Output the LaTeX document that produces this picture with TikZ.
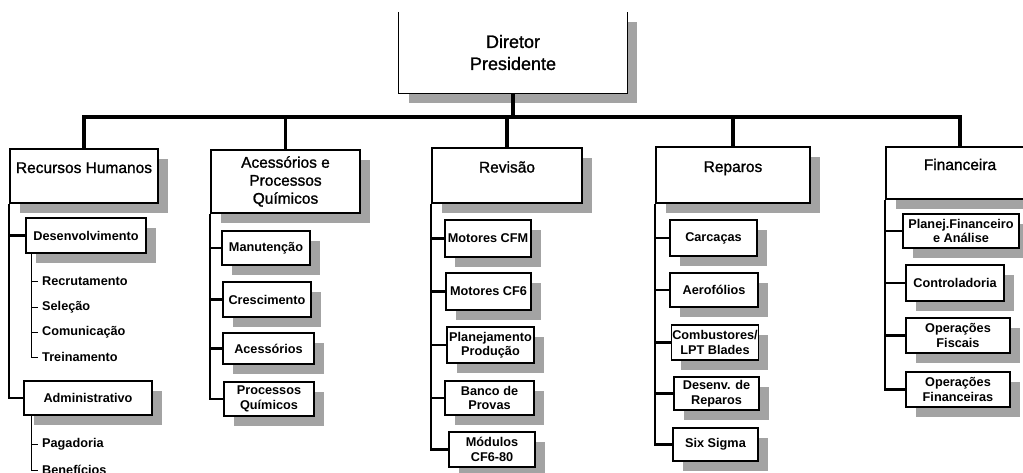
\documentclass[tikz,border=0pt]{standalone}
\usepackage{fontspec}
\setmainfont{Liberation Sans}
\newfontfamily\grossa[FakeBold=1.2]{Liberation Sans}
\usetikzlibrary{shadows}
\definecolor{sombra}{RGB}{163,163,163}

\begin{document}
\begin{tikzpicture}[x=1pt,y=-1pt,
  sombreado/.style={drop shadow={shadow xshift=9.5pt,shadow yshift=-9.5pt,fill=sombra,opacity=1}},
  area/.style={draw=black,fill=white,line width=1.3pt,sombreado,align=center,
    font=\fontsize{15.5}{18}\selectfont\grossa},
  topo/.style={text height=11pt,text depth=17pt},
  setor/.style={draw=black,fill=white,line width=1.3pt,sombreado,align=center,inner sep=1pt,
    font=\fontsize{12.7}{14.5}\selectfont\bfseries},
  item/.style={anchor=west,inner xsep=4pt,inner ysep=1pt,font=\fontsize{12.7}{14.5}\selectfont\bfseries},
  ramo/.style={line width=3.5pt},
  galho/.style={line width=2.2pt},
  fio/.style={line width=0.9pt}]
  \useasboundingbox (0,0) rectangle (1023,472);
  \fill[white] (0,0) rectangle (1023,472);
  \clip (0,0) rectangle (1023,472);

  % diretoria
  \node[fill=white,sombreado,minimum width=228pt,minimum height=81pt,align=center,
    font=\fontsize{18}{22}\selectfont\grossa] (dir) at (513,52.5) {Diretor\\Presidente};
  \draw[line width=1.3pt] (dir.north west) -- (dir.south west) -- (dir.south east) -- (dir.north east);
  \coordinate (bus) at (513,117);

  % areas
  \node[area,topo,minimum width=148pt,minimum height=54pt] (rh) at (84,176) {Recursos Humanos};
  \node[area,minimum width=149pt,minimum height=63pt] (aq) at (285.5,181.5) {Acessórios e\\Processos\\Químicos};
  \node[area,topo,minimum width=150pt,minimum height=55pt] (rev) at (507,175.5) {Revisão};
  \node[area,topo,minimum width=154pt,minimum height=56pt] (rep) at (733,175) {Reparos};
  \node[area,topo,minimum width=148pt,minimum height=52pt] (fin) at (960,173) {Financeira};

  \draw[ramo] (dir) -- (bus);
  \draw[ramo] (bus) -| (rh);
  \draw[ramo] (bus) -| (aq);
  \draw[ramo] (bus) -| (rev);
  \draw[ramo] (bus) -| (rep);
  \draw[ramo] (bus) -| (fin);

  % recursos humanos
  \node[setor,minimum width=120pt,minimum height=35pt] (des) at (86,235.5) {Desenvolvimento};
  \node[setor,minimum width=128pt,minimum height=34pt] (adm) at (88,398) {Administrativo};
  \node[item] (rec) at (38,281) {Recrutamento};
  \node[item] (sel) at (38,307) {Seleção};
  \node[item] (com) at (38,332) {Comunicação};
  \node[item] (tre) at (38,357) {Treinamento};
  \node[item] (pag) at (38,444) {Pagadoria};
  \node[item] (ben) at (38,470) {Benefícios};

  \draw[galho] (rh.south west) |- (des);
  \draw[galho] (rh.south west) |- (adm);
  \draw[fio] ([xshift=6pt]des.south west) |- (rec.west);
  \draw[fio] ([xshift=6pt]des.south west) |- (sel.west);
  \draw[fio] ([xshift=6pt]des.south west) |- (com.west);
  \draw[fio] ([xshift=6pt]des.south west) |- (tre.west);
  \draw[fio] ([xshift=8pt]adm.south west) |- (pag.west);
  \draw[fio] ([xshift=8pt]adm.south west) |- (ben.west);

  % acessorios e processos quimicos
  \node[setor,minimum width=88pt,minimum height=34pt] (man) at (266,248) {Manutenção};
  \node[setor,minimum width=88pt,minimum height=35pt] (cre) at (267,299.5) {Crescimento};
  \node[setor,minimum width=91pt,minimum height=31pt] (ace) at (268.5,348.5) {Acessórios};
  \node[setor,minimum width=90pt,minimum height=34pt] (pq) at (269,399) {Processos\\Químicos};

  \draw[galho] (aq.south west) |- (man);
  \draw[galho] (aq.south west) |- (cre);
  \draw[galho] (aq.south west) |- (ace);
  \draw[galho] (aq.south west) |- (pq);

  % revisao
  \node[setor,minimum width=86pt,minimum height=37pt] (mcfm) at (488,238.5) {Motores CFM};
  \node[setor,minimum width=85pt,minimum height=37pt] (mcf) at (488.5,291.5) {Motores CF6};
  \node[setor,minimum width=87pt,minimum height=36pt] (plan) at (490.5,345) {Planejamento\\Produção};
  \node[setor,minimum width=89pt,minimum height=34pt] (bp) at (489.5,398) {Banco de\\Provas};
  \node[setor,minimum width=86pt,minimum height=35pt] (mod) at (492,449.5) {Módulos\\CF6-80};

  \draw[galho] (rev.south west) |- (mcfm);
  \draw[galho] (rev.south west) |- (mcf);
  \draw[galho] (rev.south west) |- (plan);
  \draw[galho] (rev.south west) |- (bp);
  \draw[galho] (rev.south west) |- (mod);

  % reparos
  \node[setor,minimum width=87pt,minimum height=36pt] (car) at (713.5,238) {Carcaças};
  \node[setor,minimum width=88pt,minimum height=34pt] (aer) at (714,290) {Aerofólios};
  \node[setor,minimum width=86pt,minimum height=35pt] (cmb) at (715,342.5) {Combustores/\\LPT Blades};
  \node[setor,minimum width=85pt,minimum height=33pt] (dr) at (716.5,393.5) {Desenv. de\\Reparos};
  \node[setor,minimum width=85pt,minimum height=33pt] (six) at (715.5,444.5) {Six Sigma};

  \draw[galho] (rep.south west) |- (car);
  \draw[galho] (rep.south west) |- (aer);
  \draw[galho] (rep.south west) |- (cmb);
  \draw[galho] (rep.south west) |- (dr);
  \draw[galho] (rep.south west) |- (six);

  % financeira
  \node[setor,minimum width=116pt,minimum height=34pt] (pfa) at (961,231) {Planej.Financeiro\\e Análise};
  \node[setor,minimum width=98pt,minimum height=36pt] (ctl) at (955,283) {Controladoria};
  \node[setor,minimum width=104pt,minimum height=35pt] (ofi) at (958,335.5) {Operações\\Fiscais};
  \node[setor,minimum width=104pt,minimum height=35pt] (ofn) at (958,389.5) {Operações\\Financeiras};

  \draw[galho] (fin.south west) |- (pfa);
  \draw[galho] (fin.south west) |- (ctl);
  \draw[galho] (fin.south west) |- (ofi);
  \draw[galho] (fin.south west) |- (ofn);
\end{tikzpicture}
\end{document}
